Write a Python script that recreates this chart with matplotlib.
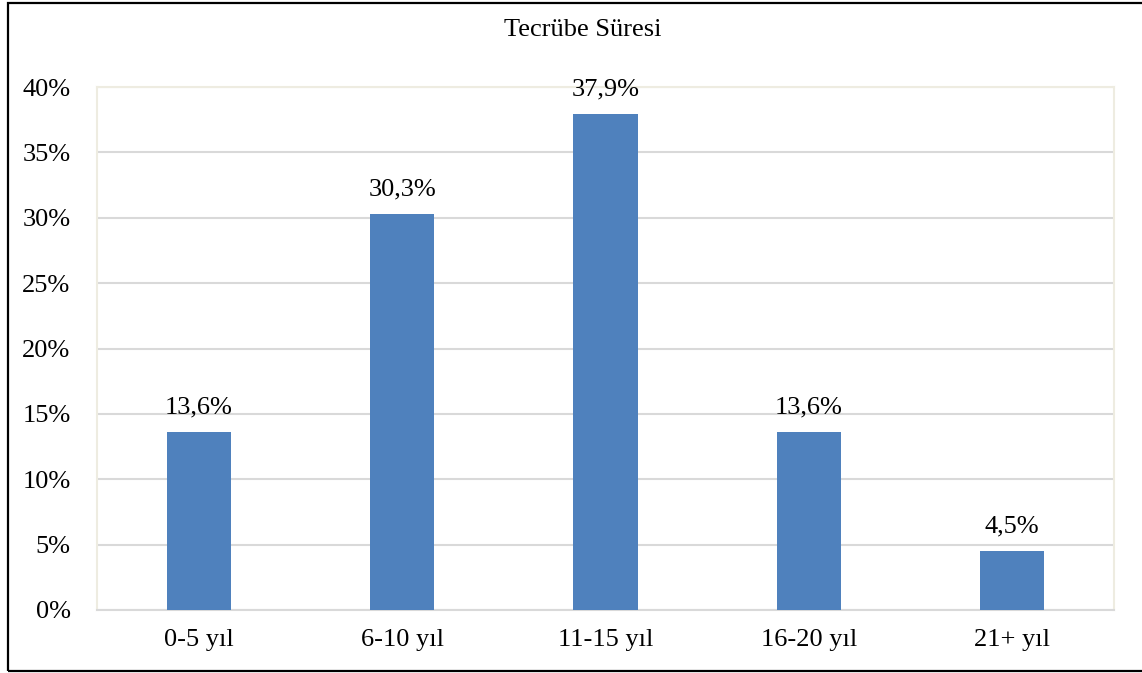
import matplotlib
matplotlib.use("Agg")
import matplotlib.pyplot as plt
from matplotlib.patches import Rectangle
from matplotlib.ticker import FuncFormatter

plt.rcParams['font.family'] = ['Liberation Serif', 'DejaVu Serif']

# Tecrübe süresi dağılımı (%)
kategoriler = ['0-5 yıl', '6-10 yıl', '11-15 yıl', '16-20 yıl', '21+ yıl']
oranlar = [13.6, 30.3, 37.9, 13.6, 4.5]
y_ticks = [0, 5, 10, 15, 20, 25, 30, 35, 40]

fig = plt.figure(figsize=(11.42, 6.73), dpi=100)
ax = fig.add_axes([97 / 1142, 63 / 673, (1114 - 97) / 1142, (610 - 87) / 673])

x = range(len(kategoriler))
ax.bar(x, oranlar, width=0.315, color='#4F81BD', zorder=3)

ax.set_xlim(-0.5, len(kategoriler) - 0.5)
ax.set_ylim(0, 40)
ax.set_yticks(y_ticks)
ax.yaxis.set_major_formatter(FuncFormatter(lambda v, p: f'{v:.0f}%'))
ax.set_xticks(list(x))
ax.set_xticklabels(kategoriler)
ax.tick_params(axis='both', length=0, labelsize=19, colors='black')
ax.tick_params(axis='y', pad=19)
ax.tick_params(axis='x', pad=14)

ax.grid(axis='y', color='#D9D9D9', linewidth=1.5, zorder=0)
for s in ['left', 'right', 'top']:
    ax.spines[s].set_color('#EEECE1')
    ax.spines[s].set_linewidth(1.5)
ax.spines['bottom'].set_color('#D9D9D9')
ax.spines['bottom'].set_linewidth(1.5)

# değer etiketleri
for xi, v in zip(x, oranlar):
    ax.annotate(f'{v:.1f}%'.replace('.', ','), (xi, v), xytext=(0, 13.5),
                textcoords='offset points', ha='center', va='baseline',
                fontsize=19, zorder=4)

fig.text(583 / 1142, 1 - 30 / 673, 'Tecrübe Süresi', ha='center', va='center', fontsize=19)

# grafik çerçevesi
fig.patches.append(Rectangle((8 / 1142, 2 / 673), 1.2, 668 / 673, transform=fig.transFigure,
                             fill=False, edgecolor='black', linewidth=1.6))

fig.savefig('out.png', dpi=100)
